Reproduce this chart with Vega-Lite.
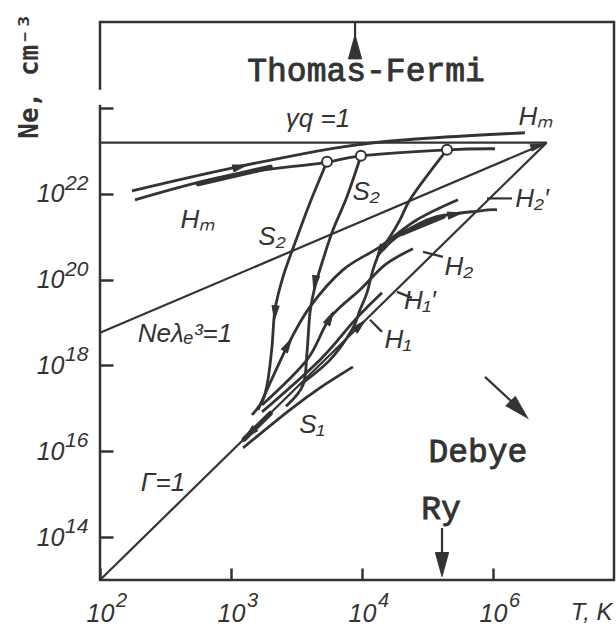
{
  "$schema": "https://vega.github.io/schema/vega-lite/v6.json",
  "width": 514,
  "height": 558,
  "autosize": {"type": "none"},
  "padding": {"left": 100, "top": 22, "right": 2, "bottom": 48},
  "background": "white",
  "config": {"view": {"stroke": "#333", "strokeWidth": 2.5}},
  "datasets": {
    "straight": [
      {"c": "gq", "i": 0, "T": 2.0, "N": 23.19}, {"c": "gq", "i": 1, "T": 5.41, "N": 23.19},
      {"c": "G1", "i": 0, "T": 2.0, "N": 13.0}, {"c": "G1", "i": 1, "T": 5.41, "N": 23.19},
      {"c": "nel", "i": 0, "T": 2.0, "N": 18.76}, {"c": "nel", "i": 1, "T": 5.41, "N": 23.19}
    ],
    "curves": [
      {"c": "HmU", "i": 0, "T": 2.244, "N": 22.068}, {"c": "HmU", "i": 1, "T": 3.015, "N": 22.604}, {"c": "HmU", "i": 2, "T": 3.855, "N": 23.093}, {"c": "HmU", "i": 3, "T": 4.443, "N": 23.28}, {"c": "HmU", "i": 4, "T": 5.244, "N": 23.42},
      {"c": "HmL", "i": 0, "T": 2.267, "N": 21.858}, {"c": "HmL", "i": 1, "T": 2.969, "N": 22.417}, {"c": "HmL", "i": 2, "T": 3.702, "N": 22.72}, {"c": "HmL", "i": 3, "T": 3.992, "N": 22.883}, {"c": "HmL", "i": 4, "T": 4.649, "N": 23.023}, {"c": "HmL", "i": 5, "T": 5.015, "N": 23.047},
      {"c": "S2a", "i": 0, "T": 3.733, "N": 22.744}, {"c": "S2a", "i": 1, "T": 3.603, "N": 21.788}, {"c": "S2a", "i": 2, "T": 3.489, "N": 20.855}, {"c": "S2a", "i": 3, "T": 3.397, "N": 20.063}, {"c": "S2a", "i": 4, "T": 3.336, "N": 19.294}, {"c": "S2a", "i": 5, "T": 3.313, "N": 18.431}, {"c": "S2a", "i": 6, "T": 3.282, "N": 17.662}, {"c": "S2a", "i": 7, "T": 3.244, "N": 17.196}, {"c": "S2a", "i": 8, "T": 3.16, "N": 16.846},
      {"c": "S2b", "i": 0, "T": 3.992, "N": 22.883}, {"c": "S2b", "i": 1, "T": 3.885, "N": 21.928}, {"c": "S2b", "i": 2, "T": 3.779, "N": 21.159}, {"c": "S2b", "i": 3, "T": 3.702, "N": 20.459}, {"c": "S2b", "i": 4, "T": 3.641, "N": 19.83}, {"c": "S2b", "i": 5, "T": 3.603, "N": 19.224}, {"c": "S2b", "i": 6, "T": 3.58, "N": 18.291}, {"c": "S2b", "i": 7, "T": 3.55, "N": 17.545}, {"c": "S2b", "i": 8, "T": 3.42, "N": 17.05},
      {"c": "S2c", "i": 0, "T": 4.649, "N": 23.023}, {"c": "S2c", "i": 1, "T": 4.519, "N": 22.51}, {"c": "S2c", "i": 2, "T": 4.366, "N": 21.858}, {"c": "S2c", "i": 3, "T": 4.29, "N": 21.392}, {"c": "S2c", "i": 4, "T": 4.214, "N": 20.995}, {"c": "S2c", "i": 5, "T": 4.137, "N": 20.646}, {"c": "S2c", "i": 6, "T": 4.084, "N": 20.226}, {"c": "S2c", "i": 7, "T": 4.038, "N": 19.69}, {"c": "S2c", "i": 8, "T": 3.985, "N": 19.294}, {"c": "S2c", "i": 9, "T": 3.924, "N": 18.828}, {"c": "S2c", "i": 10, "T": 3.756, "N": 18.128}, {"c": "S2c", "i": 11, "T": 3.527, "N": 17.545},
      {"c": "F1", "i": 0, "T": 3.206, "N": 16.963}, {"c": "F1", "i": 1, "T": 3.435, "N": 18.478}, {"c": "F1", "i": 2, "T": 3.603, "N": 19.364}, {"c": "F1", "i": 3, "T": 3.855, "N": 20.226}, {"c": "F1", "i": 4, "T": 4.137, "N": 20.762}, {"c": "F1", "i": 5, "T": 4.42, "N": 21.392}, {"c": "F1", "i": 6, "T": 4.733, "N": 21.858},
      {"c": "F1b", "i": 0, "T": 4.16, "N": 20.692}, {"c": "F1b", "i": 1, "T": 4.29, "N": 21.042}, {"c": "F1b", "i": 2, "T": 4.542, "N": 21.438}, {"c": "F1b", "i": 3, "T": 4.901, "N": 21.602}, {"c": "F1b", "i": 4, "T": 5.031, "N": 21.625},
      {"c": "H2", "i": 0, "T": 3.237, "N": 17.079}, {"c": "H2", "i": 1, "T": 3.58, "N": 18.128}, {"c": "H2", "i": 2, "T": 3.756, "N": 19.107}, {"c": "H2", "i": 3, "T": 3.985, "N": 19.76}, {"c": "H2", "i": 4, "T": 4.176, "N": 20.343}, {"c": "H2", "i": 5, "T": 4.389, "N": 20.716},
      {"c": "H1p", "i": 0, "T": 3.237, "N": 16.916}, {"c": "H1p", "i": 1, "T": 3.679, "N": 18.128}, {"c": "H1p", "i": 2, "T": 3.947, "N": 19.061}, {"c": "H1p", "i": 3, "T": 4.153, "N": 19.69},
      {"c": "S1", "i": 0, "T": 3.092, "N": 16.077}, {"c": "S1", "i": 1, "T": 3.45, "N": 16.963}, {"c": "S1", "i": 2, "T": 3.679, "N": 17.476}, {"c": "S1", "i": 3, "T": 3.931, "N": 17.965}
    ],
    "thick": [
      {"c": "HmT", "i": 0, "T": 2.75, "N": 22.23}, {"c": "HmT", "i": 1, "T": 3.3, "N": 22.62},
      {"c": "G1T", "i": 0, "T": 3.1, "N": 16.28}, {"c": "G1T", "i": 1, "T": 3.3, "N": 16.88},
      {"c": "F1T", "i": 0, "T": 4.3, "N": 21.07}, {"c": "F1T", "i": 1, "T": 4.62, "N": 21.47}
    ],
    "segments": [
      {"s": "H2p", "T": 4.954, "N": 21.89, "T2": 5.145, "N2": 21.89},
      {"s": "H2", "T": 4.466, "N": 20.646, "T2": 4.618, "N2": 20.529},
      {"s": "H1p", "T": 4.267, "N": 19.713, "T2": 4.382, "N2": 19.573},
      {"s": "H1", "T": 4.061, "N": 19.061, "T2": 4.153, "N2": 18.781},
      {"s": "TF", "T": 3.947, "N": 25.55, "T2": 3.947, "N2": 25.98},
      {"s": "Ry", "T": 4.611, "N": 14.212, "T2": 4.611, "N2": 13.5},
      {"s": "De", "T": 4.939, "N": 17.732, "T2": 5.17, "N2": 17.08}
    ],
    "gap": [{"T": 2.0, "N": 24.42, "T2": 2.0, "N2": 24.07}],
    "bigheads": [
      {"h": "TF", "T": 3.947, "N": 25.42, "dir": 0},
      {"h": "Ry", "T": 4.611, "N": 13.36, "dir": 180},
      {"h": "De", "T": 5.2, "N": 16.97, "dir": 135}
    ],
    "heads": [
      {"h": "S2a", "T": 3.336, "N": 19.224, "dir": 185},
      {"h": "S2b", "T": 3.641, "N": 19.923, "dir": 190},
      {"h": "S2c", "T": 4.137, "N": 20.646, "dir": 210},
      {"h": "F1", "T": 3.435, "N": 18.478, "dir": 30},
      {"h": "H2", "T": 3.756, "N": 19.107, "dir": 28},
      {"h": "F1b", "T": 4.71, "N": 21.52, "dir": 80},
      {"h": "G1", "T": 3.985, "N": 18.931, "dir": 46},
      {"h": "Hm", "T": 3.069, "N": 22.63, "dir": 76},
      {"h": "G1b", "T": 3.145, "N": 16.421, "dir": 226},
      {"h": "apex", "T": 5.344, "N": 23.117, "dir": 75}
    ],
    "nodes": [
      {"T": 3.733, "N": 22.744}, {"T": 3.992, "N": 22.883}, {"T": 4.649, "N": 23.023}
    ],
    "mono": [
      {"t": "Thomas-Fermi", "T": 4.031, "N": 24.855},
      {"t": "Debye", "T": 4.885, "N": 15.99},
      {"t": "Ry", "T": 4.603, "N": 14.655}
    ],
    "italic": [
      {"t": "γq =1", "T": 3.664, "N": 23.735},
      {"t": "Hₘ", "T": 5.328, "N": 23.78},
      {"t": "Hₘ", "T": 2.748, "N": 21.39},
      {"t": "S₂", "T": 4.031, "N": 22.03},
      {"t": "S₂", "T": 3.313, "N": 21.0},
      {"t": "H₂′", "T": 5.298, "N": 21.87},
      {"t": "H₂", "T": 4.74, "N": 20.3},
      {"t": "H₁′", "T": 4.443, "N": 19.49},
      {"t": "H₁", "T": 4.275, "N": 18.6},
      {"t": "S₁", "T": 3.618, "N": 16.62},
      {"t": "Γ=1", "T": 2.481, "N": 15.26},
      {"t": "Neλₑ³=1", "T": 2.649, "N": 18.72}
    ],
    "xexp": [
      {"T": 2, "N": 13, "e": "2"}, {"T": 3, "N": 13, "e": "3"}, {"T": 4, "N": 13, "e": "4"}, {"T": 5, "N": 13, "e": "6"}
    ],
    "yexp": [
      {"T": 2, "N": 14, "e": "14"}, {"T": 2, "N": 16, "e": "16"}, {"T": 2, "N": 18, "e": "18"}, {"T": 2, "N": 20, "e": "20"}, {"T": 2, "N": 22, "e": "22"}
    ]
  },
  "encoding": {
    "x": {"field": "T", "type": "quantitative", "scale": {"domain": [2, 5.924], "nice": false, "zero": false},
      "axis": {"values": [2, 3, 4, 5], "title": "T, K", "domain": false, "grid": false, "tickSize": -12, "tickWidth": 2.5, "tickColor": "#333",
        "labelExpr": "'10'",
        "labelFont": "Liberation Sans", "labelFontStyle": "italic", "labelFontSize": 25, "labelColor": "#333", "labelPadding": 33, "labelAlign": "center", "labelFlush": false, "labelOverlap": false,
        "titleFont": "Liberation Sans", "titleFontStyle": "italic", "titleFontSize": 24, "titleFontWeight": "normal", "titleColor": "#333", "titleX": 512, "titleY": 39, "titleAlign": "right", "titleBaseline": "alphabetic"}},
    "y": {"field": "N", "type": "quantitative", "scale": {"domain": [13, 26], "nice": false, "zero": false},
      "axis": {"values": [14, 16, 18, 20, 22, 24], "title": "Ne, cm⁻³", "domain": false, "grid": false, "tickSize": -13, "tickWidth": 2.5, "tickColor": "#333",
        "labelExpr": "datum.value==24?'':'10'",
        "labelFont": "Liberation Sans", "labelFontStyle": "italic", "labelFontSize": 25, "labelColor": "#333", "labelPadding": 49, "labelOverlap": false, "labelFlush": false,
        "titleFont": "DejaVu Sans Mono", "titleFontSize": 26, "titleFontWeight": "bold", "titleColor": "#333", "titleAngle": 270, "titleX": -71, "titleY": -9, "titleAlign": "right", "titleBaseline": "middle"}}
  },
  "layer": [
    {
      "data": {"name": "straight"},
      "mark": {"type": "line", "stroke": "#333", "strokeWidth": 2.2},
      "encoding": {"detail": {"field": "c"}, "order": {"field": "i"}}
    },
    {
      "data": {"name": "curves"},
      "mark": {"type": "line", "stroke": "#333", "strokeWidth": 2.8, "interpolate": "cardinal"},
      "encoding": {"detail": {"field": "c"}, "order": {"field": "i"}}
    },
    {
      "data": {"name": "thick"},
      "mark": {"type": "line", "stroke": "#333", "strokeWidth": 5, "strokeCap": "round"},
      "encoding": {"detail": {"field": "c"}, "order": {"field": "i"}}
    },
    {
      "data": {"name": "segments"},
      "mark": {"type": "rule", "stroke": "#333", "strokeWidth": 2.2},
      "encoding": {"x2": {"field": "T2"}, "y2": {"field": "N2"}}
    },
    {
      "data": {"name": "gap"},
      "mark": {"type": "rule", "stroke": "white", "strokeWidth": 6},
      "encoding": {"x2": {"field": "T2"}, "y2": {"field": "N2"}}
    },
    {
      "data": {"name": "bigheads"},
      "mark": {"type": "point", "shape": "M0,-1L0.55,1L-0.55,1Z", "filled": true, "fill": "#333", "stroke": "#333", "strokeWidth": 1, "opacity": 1, "size": 576},
      "encoding": {"angle": {"field": "dir", "type": "quantitative", "scale": null}}
    },
    {
      "data": {"name": "heads"},
      "mark": {"type": "point", "shape": "M0,-1L0.5,1L-0.5,1Z", "filled": true, "fill": "#333", "stroke": "#333", "strokeWidth": 1, "opacity": 1, "size": 200},
      "encoding": {"angle": {"field": "dir", "type": "quantitative", "scale": null}}
    },
    {
      "data": {"name": "nodes"},
      "mark": {"type": "point", "shape": "circle", "filled": true, "fill": "white", "stroke": "#333", "strokeWidth": 2, "opacity": 1, "size": 100},
      "encoding": {}
    },
    {
      "data": {"name": "mono"},
      "mark": {"type": "text", "font": "Liberation Mono", "fontWeight": "normal", "fontSize": 33, "fill": "#333", "stroke": "#333", "strokeWidth": 0.9, "align": "center", "baseline": "middle"},
      "encoding": {"text": {"field": "t"}}
    },
    {
      "data": {"name": "italic"},
      "mark": {"type": "text", "font": "Liberation Sans", "fontStyle": "italic", "fontSize": 26, "fill": "#333", "align": "center", "baseline": "middle"},
      "encoding": {"text": {"field": "t"}}
    },
    {
      "data": {"name": "xexp"},
      "mark": {"type": "text", "font": "Liberation Sans", "fontStyle": "italic", "fontSize": 20, "fill": "#333", "align": "left", "baseline": "middle", "dx": 16, "dy": 21},
      "encoding": {"text": {"field": "e"}}
    },
    {
      "data": {"name": "yexp"},
      "mark": {"type": "text", "font": "Liberation Sans", "fontStyle": "italic", "fontSize": 21, "fill": "#333", "align": "left", "baseline": "middle", "dx": -35, "dy": -10},
      "encoding": {"text": {"field": "e"}}
    }
  ]
}
